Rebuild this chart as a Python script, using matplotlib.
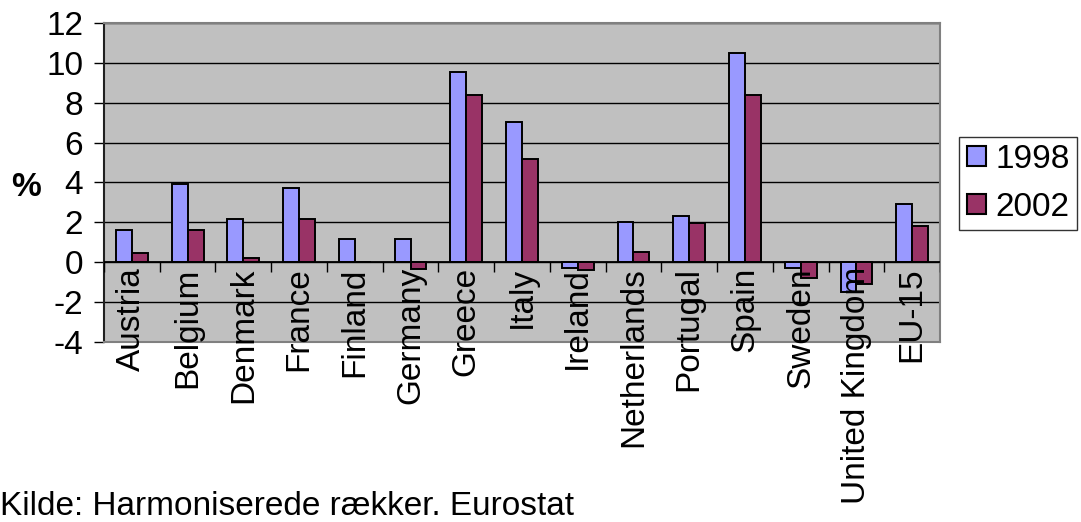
import matplotlib
matplotlib.use("Agg")
import matplotlib.pyplot as plt
import numpy as np

plt.rcParams['font.family'] = ['Liberation Sans', 'DejaVu Sans']

countries = ["Austria", "Belgium", "Denmark", "France", "Finland", "Germany",
             "Greece", "Italy", "Ireland", "Netherlands", "Portugal", "Spain",
             "Sweden", "United Kingdom", "EU-15"]
values_1998 = [1.6, 3.9, 2.15, 3.7, 1.15, 1.15, 9.55, 7.05, -0.3, 2.0, 2.3, 10.5,
               -0.3, -1.5, 2.9]
values_2002 = [0.45, 1.6, 0.2, 2.15, 0.0, -0.35, 8.4, 5.2, -0.4, 0.5, 1.95, 8.4,
               -0.8, -1.1, 1.8]
years = ["1998", "2002"]
yticks = [-4, -2, 0, 2, 4, 6, 8, 10, 12]

FS = 24

fig = plt.figure(figsize=(10.81, 5.22), dpi=100)
ax = fig.add_axes([0.0962, 0.345, 0.7734, 0.611])
ax.set_facecolor("#C0C0C0")

x = np.arange(len(countries))
w = 1 / 3.5
ax.bar(x - w / 2, values_1998, w, color="#9999FF", edgecolor="black",
       linewidth=1.4, label=years[0], zorder=3)
ax.bar(x + w / 2, values_2002, w, color="#993366", edgecolor="black",
       linewidth=1.4, label=years[1], zorder=3)

ax.set_xlim(-0.5, len(countries) - 0.5)
ax.set_ylim(-4, 12)
ax.set_yticks(yticks)
ax.set_yticklabels([str(t) for t in yticks], fontsize=FS)
ax.tick_params(axis="y", direction="out", length=7.5, width=1, pad=7.5)
ax.set_xticks([])
ax.yaxis.grid(True, color="black", linewidth=1, zorder=1)
ax.set_axisbelow(True)

for side in ["top", "right", "bottom"]:
    ax.spines[side].set_color("#808080")
    ax.spines[side].set_linewidth(1.5)
ax.spines["left"].set_color("#202020")
ax.spines["left"].set_linewidth(1.5)

# category axis drawn at zero with boundary tick marks
ax.axhline(0, color="black", linewidth=1.3, zorder=4)
ax.vlines(np.arange(len(countries) + 1) - 0.5, -0.5, 0, color="black",
          linewidth=1, zorder=4)
for xi, name in zip(x, countries):
    ax.text(xi, -0.25, name, rotation=90, ha="center", va="top",
            fontsize=FS, zorder=5)

fig.text(0.024, 0.64, "%", fontsize=FS, fontweight="bold",
         ha="center", va="center")

leg = fig.legend(loc="center", bbox_to_anchor=(0.942, 0.649), fontsize=FS,
                 frameon=True, fancybox=False, edgecolor="black",
                 handlelength=0.57, handleheight=0.57, handletextpad=0.3,
                 labelspacing=0.5, borderpad=0.22, borderaxespad=0)
leg.get_frame().set_linewidth(1)
for h in leg.legend_handles:
    h.set_linewidth(1.5)

fig.text(0.0, 0.0, "Kilde: Harmoniserede rækker. Eurostat", fontsize=FS,
         ha="left", va="bottom")

fig.savefig("out.png", dpi=100)
